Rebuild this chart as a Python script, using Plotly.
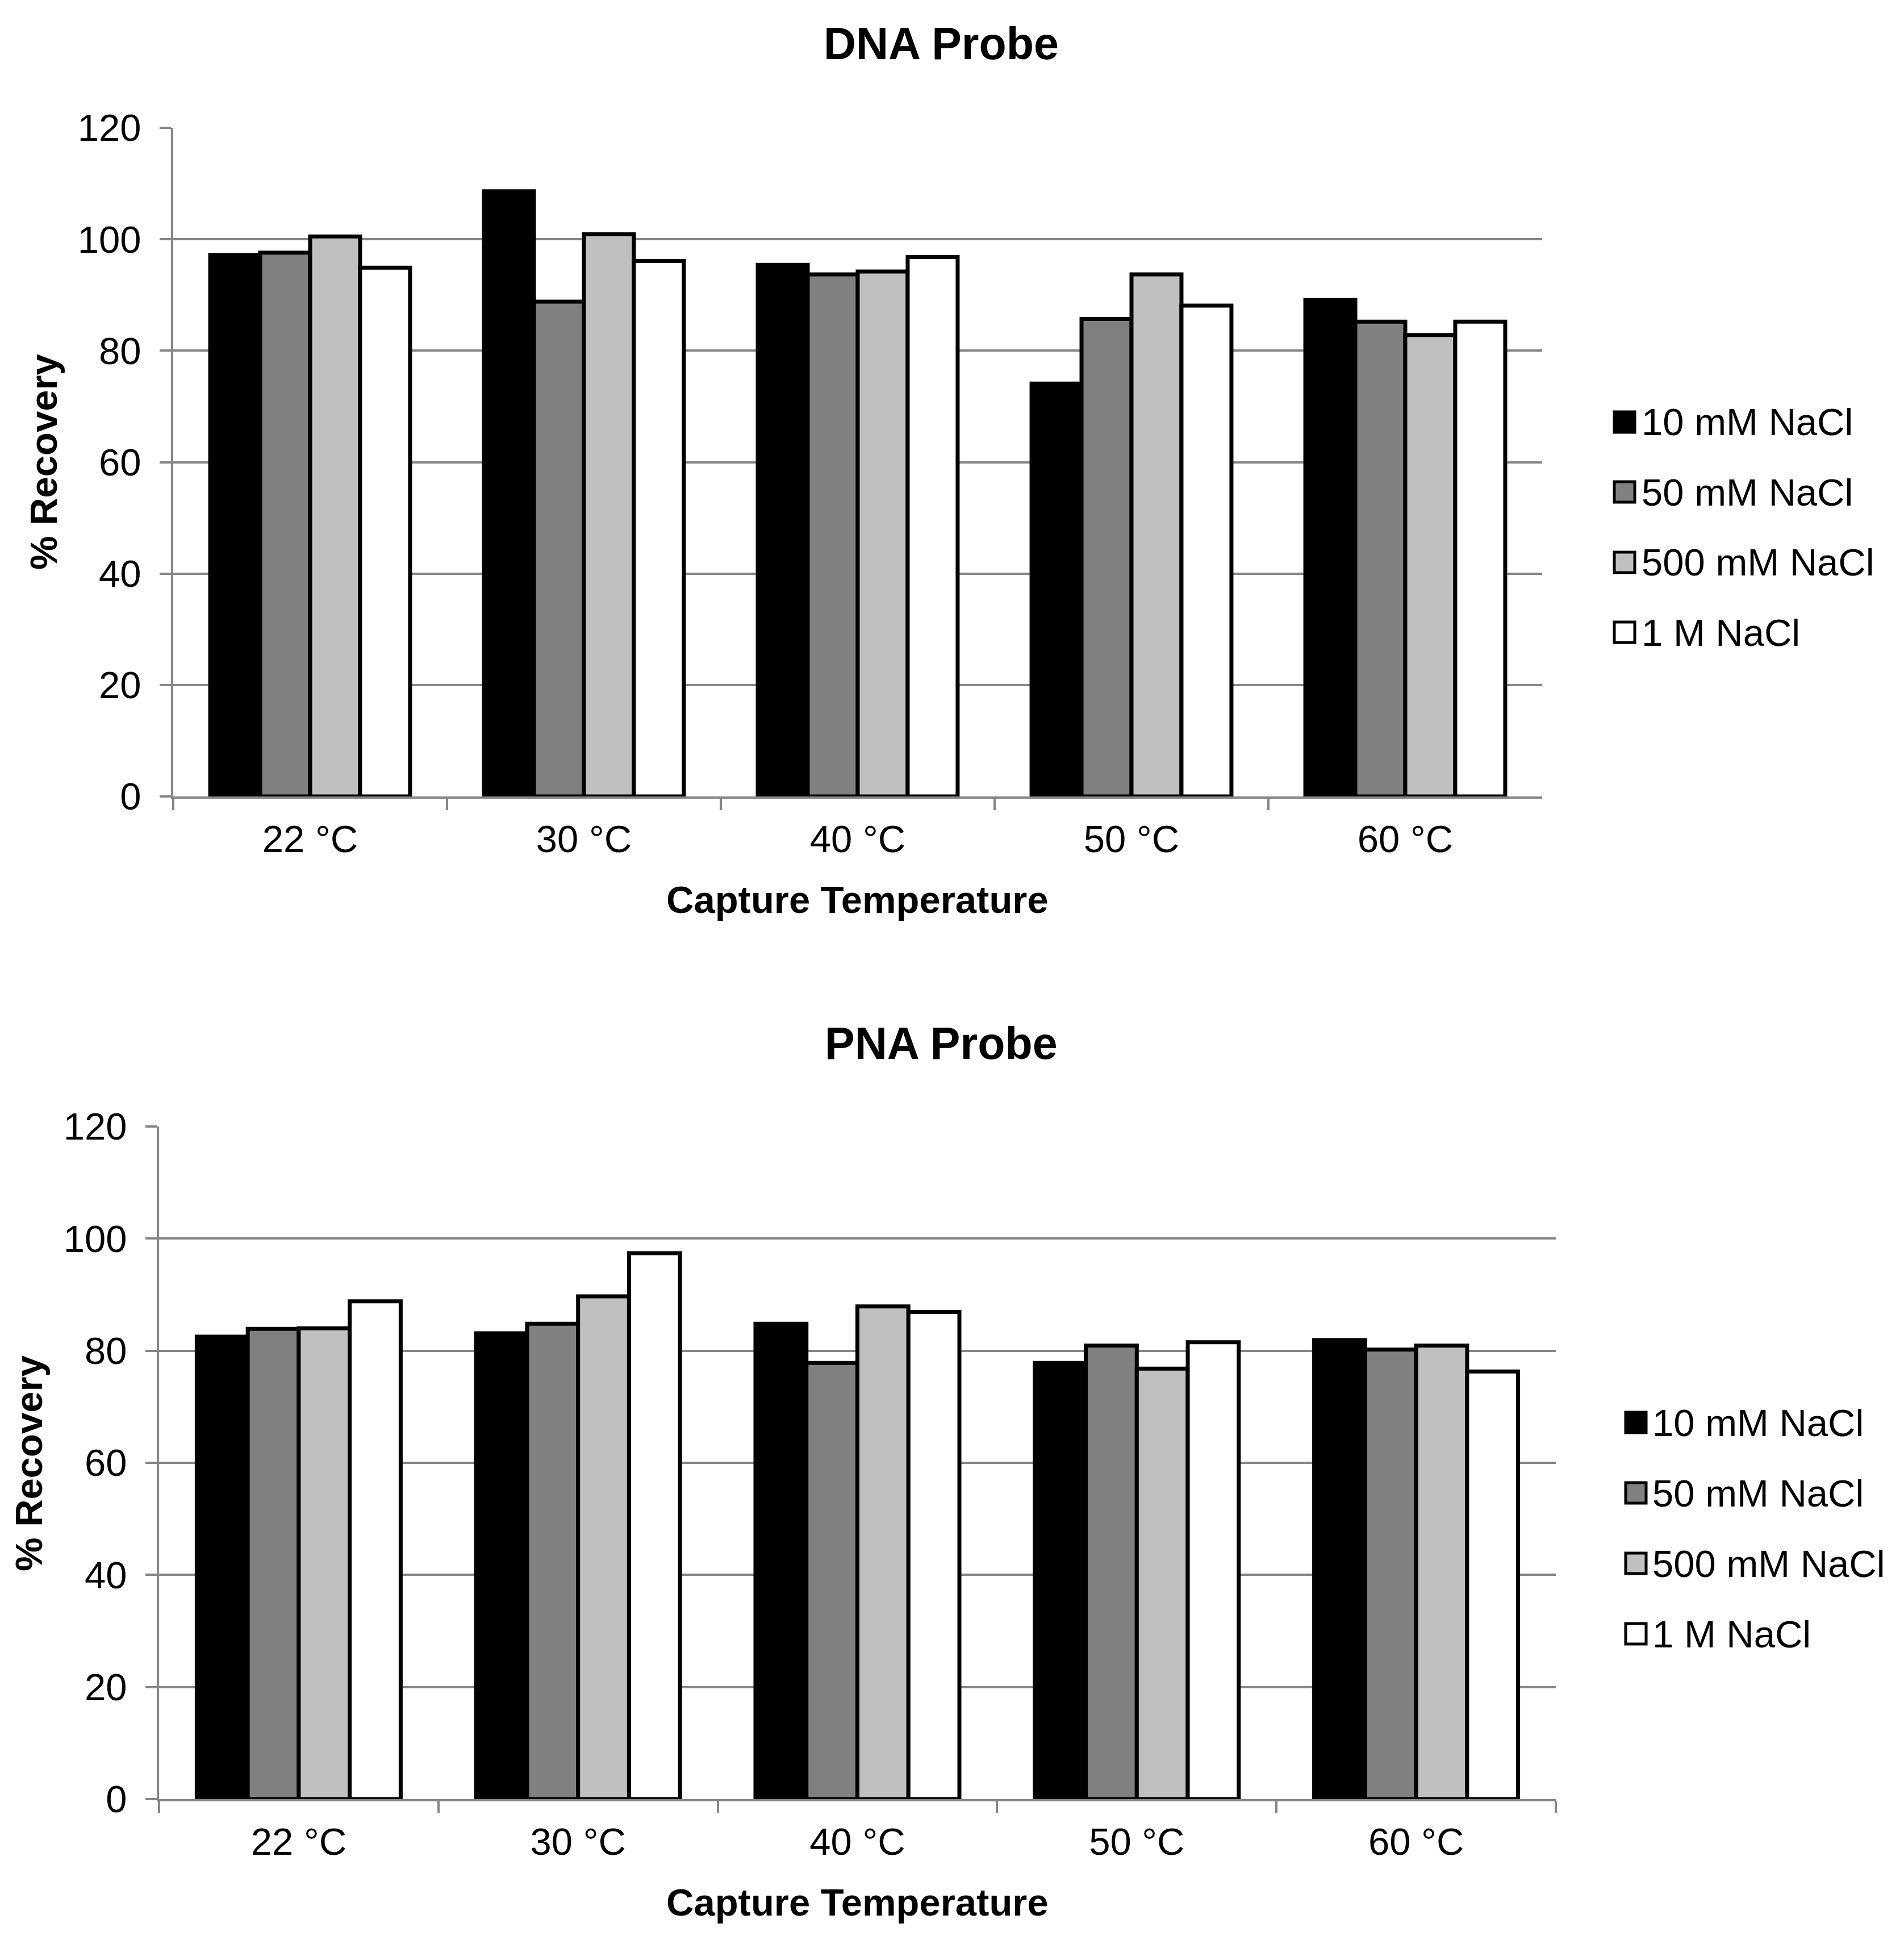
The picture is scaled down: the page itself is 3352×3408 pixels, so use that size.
import plotly.graph_objects as go
from plotly.subplots import make_subplots

# ---------------- data ----------------
categories = ["22 °C", "30 °C", "40 °C", "50 °C", "60 °C"]
series_names = ["10 mM NaCl", "50 mM NaCl", "500 mM NaCl", "1 M NaCl"]

dna_10mM = [97.2, 108.6, 95.4, 74.1, 89.1]
dna_50mM = [97.6, 88.8, 93.7, 85.7, 85.2]
dna_500mM = [100.5, 100.9, 94.2, 93.7, 82.8]
dna_1M = [94.9, 96.1, 96.8, 88.1, 85.2]

pna_10mM = [82.5, 83.1, 84.8, 77.8, 81.9]
pna_50mM = [83.9, 84.8, 77.8, 80.9, 80.2]
pna_500mM = [84.0, 89.7, 87.9, 76.8, 80.9]
pna_1M = [88.8, 97.4, 86.9, 81.5, 76.3]

y_ticks = [0, 20, 40, 60, 80, 100, 120]

# ---------------- style ----------------
colors = ["#000000", "#808080", "#C0C0C0", "#FFFFFF"]
FONT = "Liberation Sans, Arial, sans-serif"
GRID = "#868686"
FS = 67
W, H = 3352, 3408
OFF = 8  # page body margin compensation


def px(x):
    return (x - OFF) / W


def py(y):
    return 1 - (y - OFF) / H


fig = make_subplots(rows=2, cols=1)

dna = [dna_10mM, dna_50mM, dna_500mM, dna_1M]
pna = [pna_10mM, pna_50mM, pna_500mM, pna_1M]

for row, data in ((1, dna), (2, pna)):
    for name, vals, col in zip(series_names, data, colors):
        fig.add_trace(
            go.Bar(
                x=categories, y=vals, name=name,
                marker=dict(color=col, line=dict(color="#000000", width=7)),
                showlegend=False,
            ),
            row=row, col=1,
        )

axis_common_y = dict(
    range=[0, 120], tickvals=y_ticks, showgrid=True, gridcolor=GRID, gridwidth=4,
    showline=True, linecolor=GRID, linewidth=4, ticks="outside", ticklen=20,
    tickwidth=4, tickcolor=GRID, zeroline=False, automargin=False,
    ticklabelstandoff=19,
    tickfont=dict(family=FONT, size=FS, color="#000000"),
)
axis_common_x = dict(
    showline=True, linecolor=GRID, linewidth=4, ticks="outside", ticklen=20,
    tickwidth=4, tickcolor=GRID, tickson="boundaries", showgrid=False,
    automargin=False, ticklabelstandoff=14,
    tickfont=dict(family=FONT, size=FS, color="#000000"),
)

fig.update_layout(
    width=W, height=H, autosize=False,
    margin=dict(l=0, r=0, t=0, b=0, pad=0, autoexpand=False),
    paper_bgcolor="#FFFFFF", plot_bgcolor="#FFFFFF",
    barmode="group", bargap=0.27, bargroupgap=0,
    font=dict(family=FONT, size=FS, color="#000000"),
    showlegend=False,
    xaxis=dict(domain=[px(305), px(2715)], **axis_common_x),
    yaxis=dict(domain=[py(1402), py(225)], **axis_common_y),
    xaxis2=dict(domain=[px(280), px(2739)], **axis_common_x),
    yaxis2=dict(domain=[py(3167), py(1983)], **axis_common_y),
)

ann = []


def text(t, x, y, size=FS, bold=False, angle=0, xanchor="center"):
    ann.append(dict(
        text=f"<b>{t}</b>" if bold else t, x=px(x), y=py(y),
        xref="paper", yref="paper", showarrow=False, textangle=angle,
        xanchor=xanchor, yanchor="middle",
        font=dict(family=FONT, size=size, color="#000000"),
    ))


# titles
text("DNA Probe", 1657, 76, size=79, bold=True)
text("PNA Probe", 1657, 1837, size=79, bold=True)
# axis titles
text("Capture Temperature", 1509, 1583, bold=True)
text("Capture Temperature", 1509, 3348, bold=True)
text("% Recovery", 76, 813, bold=True, angle=-90)
text("% Recovery", 50, 2576, bold=True, angle=-90)

# legends (built from series names / colours)
shapes = []
legend_specs = [
    (2860, 2888, [743, 866, 990, 1113]),
    (2880, 2907, [2504, 2628, 2752, 2876]),
]
for mx, tx, ys in legend_specs:
    for name, col, yy in zip(series_names, colors, ys):
        shapes.append(dict(
            type="rect", xref="paper", yref="paper",
            x0=px(mx - 18), x1=px(mx + 18),
            y0=py(yy + 18), y1=py(yy - 18),
            fillcolor=col, line=dict(color="#000000", width=5),
        ))
        text(name, tx, yy, xanchor="left")

fig.update_layout(annotations=ann, shapes=shapes)

fig.write_html("out.html")
